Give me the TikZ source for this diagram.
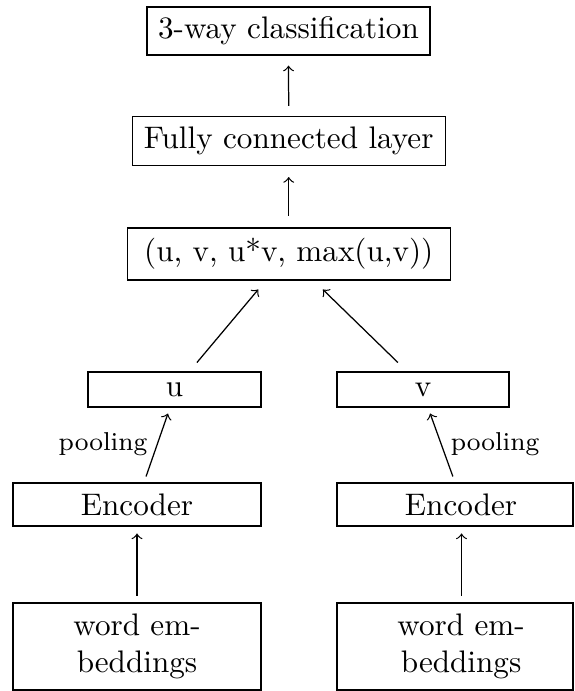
\documentclass[tikz,border=0pt]{standalone}
\usetikzlibrary{calc}
% one drawing unit = one pixel of a 574 x 691 canvas
\newcommand\upx{0.321pt}
\begin{document}
\begin{tikzpicture}[x=\upx, y=-\upx,
  box/.style={draw, line width=0.4pt, inner sep=0pt, align=center,
              font=\fontsize{10}{12}\selectfont},
  link/.style={->, line width=0.4pt},
  lbl/.style={inner sep=0pt, font=\fontsize{8.3}{10}\selectfont}]
\useasboundingbox (0,0) rectangle (574,691);

% classifier stack
\node[box, minimum width=283*\upx, minimum height=48*\upx] (cls)  at (288.5,31)  {3-way classification};
\node[box, minimum width=313*\upx, minimum height=49*\upx] (fc)   at (288.7,141) {Fully connected layer};
\node[box, minimum width=323*\upx, minimum height=52*\upx] (feat) at (288.7,254) {(u, v, u*v, max(u,v))};

% sentence vectors
\node[box, minimum width=173*\upx, minimum height=35*\upx] (u) at (174.5,389.5) {u};
\node[box, minimum width=172*\upx, minimum height=35*\upx] (v) at (423,389.5)   {v};

% encoders
\node[box, minimum width=248*\upx, minimum height=43*\upx] (encL) at (137,504.5) {Encoder};
\node[box, minimum width=236*\upx, minimum height=43*\upx] (encR) at (455,504.5) {\hspace*{3.9pt}Encoder};

% inputs
\node[box, minimum width=248*\upx, minimum height=87*\upx] (embL) at (137,646.5) {word em-\\beddings};
\node[box, minimum width=236*\upx, minimum height=87*\upx] (embR) at (455,646.5) {\hspace*{3.9pt}word em-\\\hspace*{3.9pt}beddings};

% pooling labels
\node[lbl] (poolL) at (103,444) {pooling};
\node[lbl] (poolR) at (495,444) {pooling};

% connectors
\draw[link, shorten <=3.2pt, shorten >=3.2pt] (fc.north) -- (cls.south);
\draw[link, shorten <=3.8pt, shorten >=3.5pt] (feat.north) -- (fc.south);
\draw[link, shorten <=3.7pt, shorten >=3.7pt] ($(u.north)+(15,0)$) -- ($(feat.south)+(-23,0)$);
\draw[link, shorten <=4.1pt, shorten >=4.1pt] ($(v.north)+(-16,0)$) -- ($(feat.south)+(25,0)$);
\draw[link, shorten <=2pt, shorten >=2pt] ($(encL.north)+(7,0)$) -- ($(u.south)+(-4.5,0)$);
\draw[link, shorten <=2pt, shorten >=2pt] (encR.north) -- ($(v.south)+(5,0)$);
\draw[link, shorten <=2.2pt, shorten >=2.2pt] (embL.north) -- (encL.south);
\draw[link, shorten <=2.2pt, shorten >=2.2pt] ($(embR.north)+(6.5,0)$) -- ($(encR.south)+(6.5,0)$);
\end{tikzpicture}
\end{document}
